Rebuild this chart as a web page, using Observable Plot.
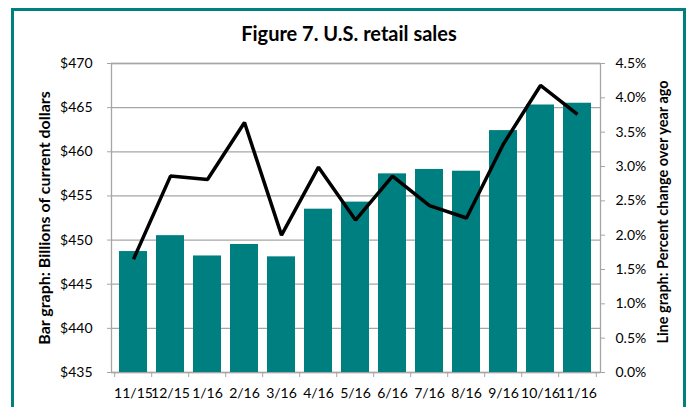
<!DOCTYPE html>
<html><head><meta charset="utf-8">
<script src="https://cdn.jsdelivr.net/npm/d3@7"></script>
<script src="https://cdn.jsdelivr.net/npm/@observablehq/plot@0.6"></script>
<style>
body{margin:0;background:#fff;font-family:Lato,sans-serif;}
#wrap{position:relative;width:689px;height:407px;overflow:hidden;}
#frame{position:absolute;left:11px;top:8px;width:669px;height:430px;border:3px solid #008080;}
#title{position:absolute;left:0;width:698px;top:21px;text-align:center;font-weight:bold;font-size:20px;color:#000;}
#chart{position:absolute;left:0;top:0;}
</style></head>
<body><div id="wrap"><div id="frame"></div><div id="title">Figure 7. U.S. retail sales</div><div id="chart"></div></div>
<script>
const months = ["11/15","12/15","1/16","2/16","3/16","4/16","5/16","6/16","7/16","8/16","9/16","10/16","11/16"];
const sales = [448.7, 450.5, 448.2, 449.5, 448.1, 453.5, 454.3, 457.5, 458.0, 457.8, 462.4, 465.3, 465.5];
const pctChange = [1.65, 2.86, 2.81, 3.64, 2.0, 2.99, 2.22, 2.86, 2.43, 2.25, 3.33, 4.18, 3.76];
const leftTicks = [435, 440, 445, 450, 455, 460, 465, 470];
const rightTicks = [0, 0.5, 1.0, 1.5, 2.0, 2.5, 3.0, 3.5, 4.0, 4.5];
const leftLabel = "Bar graph: Billions of current dollars";
const rightLabel = "Line graph: Percent change over year ago";

const Y0 = 435, Y1 = 470, P1 = 4.5;
const toY = p => Y0 + p * (Y1 - Y0) / P1;
const fromY = y => (y - Y0) * P1 / (Y1 - Y0);
const data = months.map((m, i) => ({m, sales: sales[i], pct: pctChange[i]}));

const W = 689, H = 407, mL = 111, mR = 89, mT = 63, mB = 35;
const step = (W - mL - mR) / months.length;
const grid = "#a6a6a6";

const plot = Plot.plot({
  width: W, height: H,
  marginLeft: mL, marginRight: mR, marginTop: mT, marginBottom: mB,
  style: {fontFamily: "Lato, sans-serif", fontSize: "14px", color: "#000", background: "transparent", overflow: "visible"},
  x: {domain: months, paddingInner: 0.23, paddingOuter: 0.115},
  y: {domain: [Y0, Y1]},
  marks: [
    Plot.ruleY(leftTicks, {stroke: grid, strokeWidth: 1.3}),
    Plot.frame({stroke: grid, strokeWidth: 1.3}),
    Plot.barY(data, {x: "m", y1: Y0, y2: "sales", fill: "#007f80"}),
    Plot.line(data, {x: "m", y: d => toY(d.pct), stroke: "#000", strokeWidth: 3.5, strokeLinejoin: "miter", strokeLinecap: "butt"}),
    Plot.axisY(leftTicks, {anchor: "left", tickFormat: d => "$" + d, tickSize: 4, tickPadding: 15, stroke: grid, fill: "#000", label: null}),
    Plot.axisY(rightTicks.map(toY), {anchor: "right", tickFormat: d => fromY(d).toFixed(1) + "%", tickSize: 4, tickPadding: 11, stroke: grid, fill: "#000", label: null}),
    Plot.axisX({tickSize: 0, tickPadding: 16, fill: "#000", label: null}),
    Plot.axisX({tickSize: 5, tickFormat: () => "", dx: -step / 2, stroke: grid, label: null}),
    Plot.axisX([months[months.length - 1]], {tickSize: 5, tickFormat: () => "", dx: step / 2, stroke: grid, label: null}),
    Plot.text([leftLabel], {text: d => d, frameAnchor: "left", textAnchor: "middle", dx: -67, dy: 0, rotate: -90, fontWeight: "bold", fontSize: 16, fill: "#000"}),
    Plot.text([rightLabel], {text: d => d, frameAnchor: "right", textAnchor: "middle", dx: 63, dy: -6, rotate: -90, fontWeight: "bold", fontSize: 14.5, fill: "#000"})
  ]
});
document.getElementById("chart").appendChild(plot);
</script>
</body></html>
